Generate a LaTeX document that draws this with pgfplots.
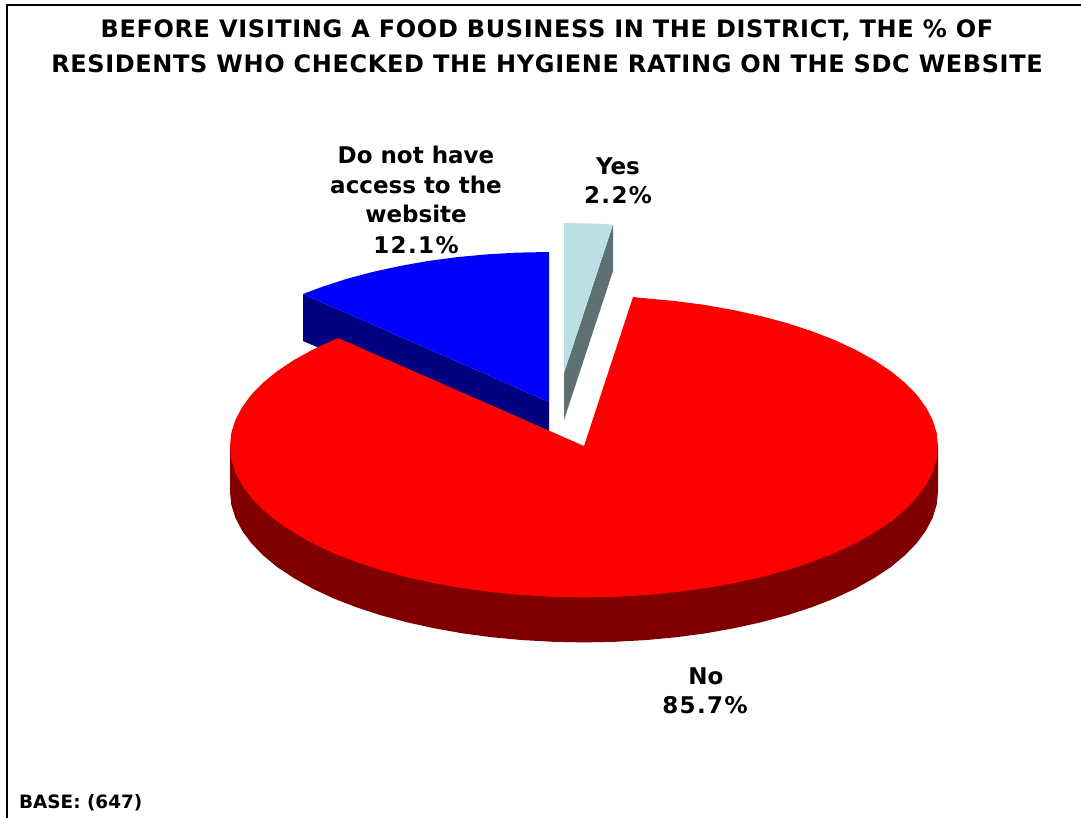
\documentclass[border=0pt]{standalone}
\usepackage{pgfplots}
\pgfplotsset{compat=1.18}
\usepackage{fontspec}
\setmainfont{DejaVu Sans}

\definecolor{noTop}{HTML}{FF0000}
\definecolor{noSide}{HTML}{800000}
\definecolor{dkTop}{HTML}{0000FF}
\definecolor{dkSide}{HTML}{000080}
\definecolor{yesTop}{HTML}{BBE0E3}
\definecolor{yesSide}{HTML}{5E7071}

\newcommand{\lab}{\fontsize{23}{28}\selectfont\bfseries}
\newcommand{\num}{\fontsize{23}{28}\selectfont\bfseries\addfontfeature{LetterSpace=6}}
\newcommand{\ttl}{\fontsize{24}{28}\selectfont\bfseries\addfontfeature{LetterSpace=2.65}}

\begin{document}
\begin{tikzpicture}
\useasboundingbox (0,0) rectangle (1081pt,818pt);
\begin{axis}[
	scale only axis,
	width=1081pt,
	height=818pt,
	xmin=0, xmax=1081,
	ymin=0, ymax=818,
	y dir=reverse,
	hide axis,
]

% frame, only top and left fall inside the picture
\addplot[black, line width=2.2pt] coordinates {(1081,5) (7,5) (7,818)};

% Do not have access: side then top
\addplot[fill=dkSide, draw=none] coordinates {
	(303,294) (549,402) (549,447) (303,341)
} --cycle;
\addplot[fill=dkTop, draw=none] coordinates {
	(549,402) (549,252) (518.1,252.6) (487.5,254.3) (457.4,257.1) (427.9,261.0)
	(399.4,266.1) (372.0,272.1) (345.9,279.1) (321.4,287.1) (303,294)
} --cycle;

% Yes: side then top
\addplot[fill=yesSide, draw=none] coordinates {
	(613,224.6) (613,271) (564,420) (564,373)
} --cycle;
\addplot[fill=yesTop, draw=none] coordinates {
	(564,373) (564,223) (594.9,223.6) (613,224.6)
} --cycle;

% No: side
\addplot[fill=noSide, draw=none] coordinates {
	(938,446) (938,491.5) (936.7,504.8) (932.6,517.8) (925.9,530.6) (916.7,543.2)
	(904.8,555.4) (890.6,567.2) (874.0,578.2) (855.2,588.7) (834.3,598.5)
	(811.6,607.3) (787.1,615.3) (761.0,622.3) (733.6,628.3) (705.1,633.4)
	(675.6,637.3) (645.5,640.1) (614.9,641.8) (584,642.4) (553.1,641.8)
	(522.5,640.1) (492.4,637.3) (462.9,633.4) (434.4,628.3) (407.0,622.3)
	(380.9,615.3) (356.4,607.3) (333.7,598.5) (312.8,588.7) (294.0,578.2)
	(277.4,567.2) (263.2,555.4) (251.3,543.2) (242.1,530.6) (235.4,517.8)
	(231.3,504.8) (230,491.5) (230,446)
} --cycle;
% No: top
\addplot[fill=noTop, draw=none] coordinates {
	(584,446) (633,297) (645.5,298.3) (675.6,301.1) (705.1,305.0) (733.6,310.1)
	(761.0,316.1) (787.1,323.1) (811.6,331.1) (834.3,339.9) (855.2,349.6)
	(874.0,360.0) (890.6,371.0) (904.8,382.6) (916.7,394.7) (925.9,407.2)
	(932.6,420.0) (936.7,432.9) (938.0,446) (936.7,459.3) (932.6,472.3)
	(925.9,485.2) (916.7,497.8) (904.8,510.0) (890.6,521.8) (874.0,532.8)
	(855.2,543.4) (834.3,553.2) (811.6,562.0) (787.1,570.1) (761.0,577.2)
	(733.6,583.2) (705.1,588.3) (675.6,592.2) (645.5,595.1) (614.9,596.8)
	(584,597.4) (553.1,596.8) (522.5,595.1) (492.4,592.2) (462.9,588.3)
	(434.4,583.2) (407.0,577.2) (380.9,570.1) (356.4,562.0) (333.7,553.2)
	(312.8,543.4) (294.0,532.8) (277.4,521.8) (263.2,510.0) (251.3,497.8)
	(242.1,485.2) (235.4,472.3) (231.3,459.3) (230.0,446) (231.3,432.9)
	(235.4,420.0) (242.1,407.2) (251.3,394.7) (263.2,382.6) (277.4,371.0)
	(294.0,360.0) (312.8,349.6) (333.7,339.9) (338,338)
} --cycle;

% title
\node[anchor=base, inner sep=0pt] at (axis cs:547,38) {\ttl BEFORE VISITING A FOOD BUSINESS IN THE DISTRICT, THE \% OF};
\node[anchor=base, inner sep=0pt] at (axis cs:547,73) {\ttl RESIDENTS WHO CHECKED THE HYGIENE RATING ON THE SDC WEBSITE};

% slice labels
\node[anchor=base, inner sep=0pt] at (axis cs:416,164) {\lab Do not have};
\node[anchor=base, inner sep=0pt] at (axis cs:416,194) {\lab access to the};
\node[anchor=base, inner sep=0pt] at (axis cs:416,223) {\lab website};
\node[anchor=base, inner sep=0pt] at (axis cs:416,253.5) {\num 12.1\%};
\node[anchor=base, inner sep=0pt] at (axis cs:618,175) {\lab Yes};
\node[anchor=base, inner sep=0pt] at (axis cs:618,204) {\num 2.2\%};
\node[anchor=base, inner sep=0pt] at (axis cs:706,684.5) {\lab No};
\node[anchor=base, inner sep=0pt] at (axis cs:705,713.5) {\num 85.7\%};

\node[anchor=base west, inner sep=0pt] at (axis cs:19,808) {\fontsize{18.4}{22}\selectfont\bfseries BASE: (647)};

\end{axis}
\end{tikzpicture}
\end{document}
